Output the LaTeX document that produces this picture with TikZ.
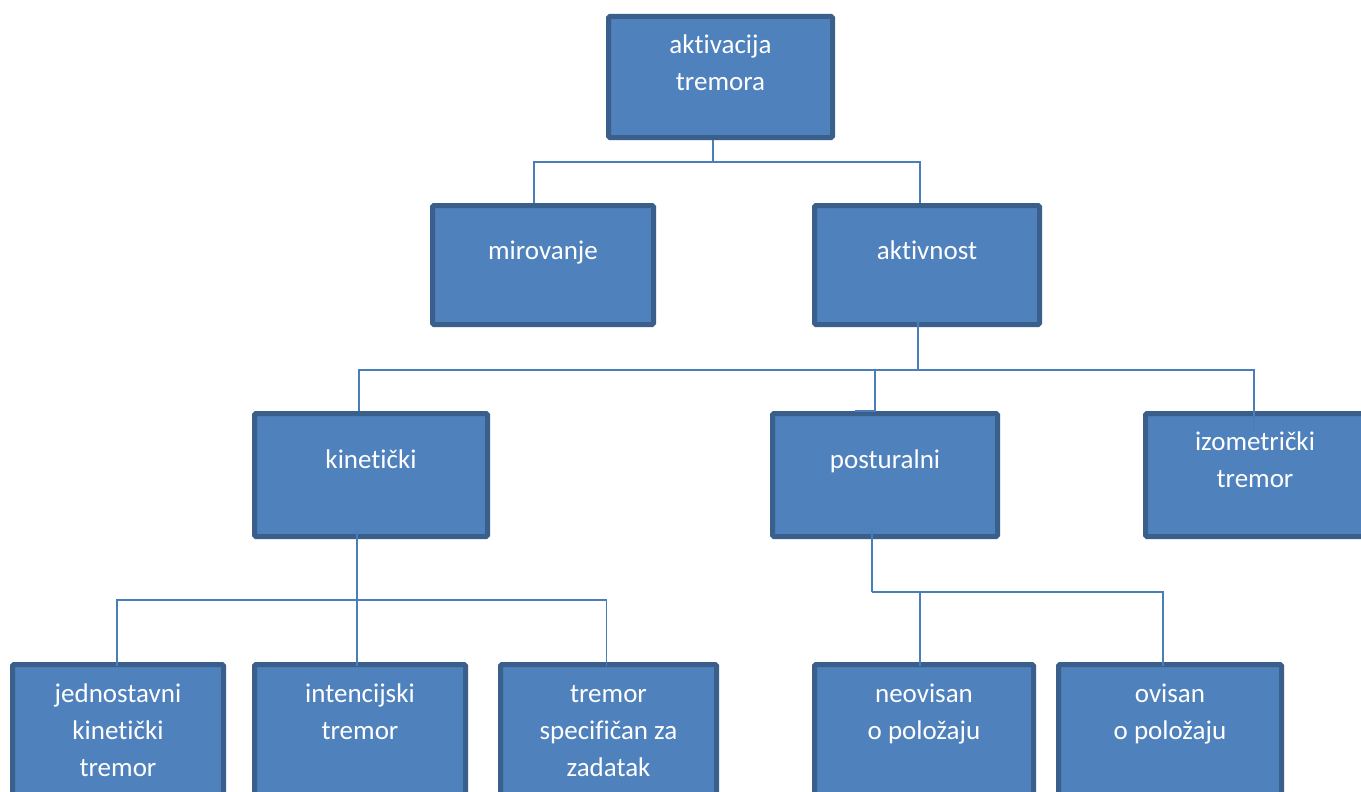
\documentclass[tikz,border=0pt]{standalone}
\usepackage{fontspec}
\setmainfont{Carlito}[Ligatures=NoCommon]
\usetikzlibrary{calc}
\definecolor{boxfill}{HTML}{4F81BD}
\definecolor{boxline}{HTML}{3A5F8B}
\definecolor{connc}{HTML}{4A7EBB}
\tikzset{
  box/.style={draw=boxline, fill=boxfill, line width=5pt, rounded corners=1.5pt, inner sep=0pt},
  txt/.style={text=white, font=\fontsize{27}{37}\selectfont, align=center, inner sep=0pt},
  conn/.style={draw=connc, line width=1.6pt},
}
\begin{document}
\begin{tikzpicture}[x=1pt, y=-1pt]
\useasboundingbox (0,0) rectangle (1361,792);
\clip (0,0) rectangle (1361,792);
\fill[white] (0,0) rectangle (1361,792);
% boxes (outer size minus line width)
\node[box, minimum width=224pt, minimum height=121pt] (top) at (720.5,77) {};
\node[box, minimum width=221pt, minimum height=119pt] (mir) at (543,265) {};
\node[box, minimum width=225pt, minimum height=119pt] (akt) at (927,265) {};
\node[box, minimum width=233pt, minimum height=123pt] (kin) at (371,475) {};
\node[box, minimum width=225pt, minimum height=123pt] (pos) at (885,475) {};
\node[box, minimum width=219pt, minimum height=123pt] (izo) at (1255,475) {};
\node[box, minimum width=211pt, minimum height=135pt] (jed) at (118,732) {};
\node[box, minimum width=211pt, minimum height=135pt] (int) at (360,732) {};
\node[box, minimum width=216pt, minimum height=135pt] (spe) at (608.5,732) {};
\node[box, minimum width=219pt, minimum height=135pt] (neo) at (924,732) {};
\node[box, minimum width=223pt, minimum height=135pt] (ovi) at (1170,732) {};
% texts (base = baseline of the last line)
\node[txt, anchor=base] (topT) at (720.5,91) {aktivacija\\tremora};
\node[txt, anchor=base] (mirT) at (543,259) {mirovanje};
\node[txt, anchor=base] (aktT) at (927,259) {aktivnost};
\node[txt, anchor=base] (kinT) at (371,468) {kinetički};
\node[txt, anchor=base] (posT) at (885,468) {posturalni};
\node[txt, anchor=base] (izoT) at (1255,487) {izometrički\\tremor};
\node[txt, anchor=base] (jedT) at (118,776) {jednostavni\\kinetički\\tremor};
\node[txt, anchor=base] (intT) at (360,739) {intencijski\\tremor};
\node[txt, anchor=base] (speT) at (608.5,776) {tremor\\specifičan za\\zadatak};
\node[txt, anchor=base] (neoT) at (924,739) {neovisan\\o položaju};
\node[txt, anchor=base] (oviT) at (1170,739) {ovisan\\o položaju};
% connectors
\coordinate (j1) at (713,162);
\draw[conn] (j1 |- top.south) -- (j1);
\draw[conn] (j1) -| ([xshift=-9pt]mir.north);
\draw[conn] (j1) -| ([xshift=-7pt]akt.north);
\coordinate (j2) at (918,370);
\draw[conn] ($(j2 |- akt.south)+(0,-9)$) -- (j2);
\draw[conn] (j2) -| ([xshift=-12pt]kin.north);
\draw[conn] (j2) -| ([xshift=-10pt]pos.north) -- ([xshift=-30pt]pos.north);
\draw[conn] (j2) -| ($(izo.north)+(-1,19)$);
\coordinate (j3) at (357,600);
\draw[conn] ($(j3 |- kin.south)+(0,-9)$) -- (j3);
\draw[conn] (j3) -| ($(jed.north)+(-1,4)$);
\draw[conn] (j3) -- ($(int.north)+(-3,4)$);
\draw[conn] (j3) -| ($(spe.north)+(-2,4)$);
\coordinate (j4) at (872,592);
\draw[conn] ($(j4 |- pos.south)+(0,-14)$) -- (j4);
\draw[conn] (j4) -| ($(neo.north)+(-4,4)$);
\draw[conn] (j4) -| ($(ovi.north)+(-7,4)$);
\end{tikzpicture}
\end{document}
